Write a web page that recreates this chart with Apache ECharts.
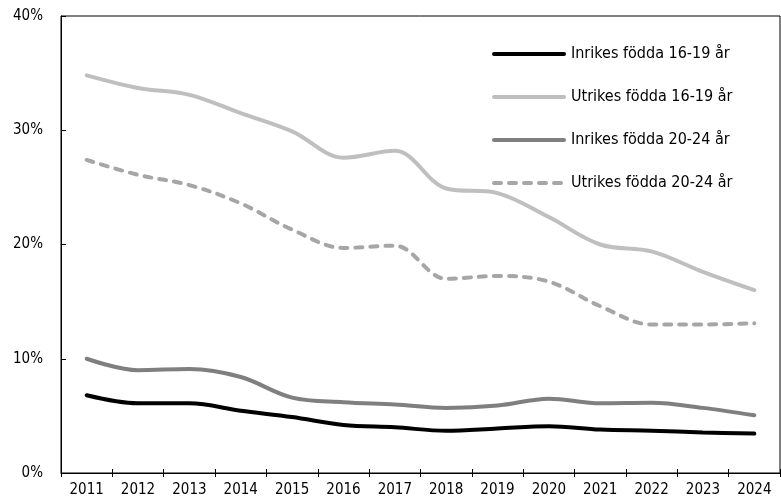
<!DOCTYPE html>
<html>
<head>
<meta charset="utf-8">
<script src="https://cdn.jsdelivr.net/npm/echarts@6/dist/echarts.min.js"></script>
<style>
  html, body { margin: 0; padding: 0; background: #fff; }
  #chart { width: 781px; height: 502px; }
</style>
</head>
<body>
<div id="chart"></div>
<script>
var years = ['2011', '2012', '2013', '2014', '2015', '2016', '2017', '2018', '2019', '2020', '2021', '2022', '2023', '2024'];

var inrikes1619 = [6.8, 6.1, 6.1, 5.45, 4.9, 4.2, 4.0, 3.7, 3.9, 4.1, 3.8, 3.7, 3.55, 3.45];
var utrikes1619 = [34.8, 33.7, 33.1, 31.5, 29.9, 27.6, 28.2, 24.9, 24.5, 22.4, 20.0, 19.4, 17.6, 16.0];
var inrikes2024 = [10.0, 9.0, 9.1, 8.4, 6.6, 6.2, 6.0, 5.7, 5.9, 6.5, 6.1, 6.15, 5.7, 5.05];
var utrikes2024 = [27.4, 26.1, 25.2, 23.6, 21.3, 19.7, 19.9, 17.0, 17.25, 16.75, 14.6, 13.0, 13.0, 13.1];

var seriesNames = ['Inrikes födda 16-19 år', 'Utrikes födda 16-19 år', 'Inrikes födda 20-24 år', 'Utrikes födda 20-24 år'];

var font = '"Liberation Sans Narrow", "DejaVu Sans Condensed", "Roboto Condensed", sans-serif';

var myChart = echarts.init(document.getElementById('chart'));

function lineSeries(name, data, color, type) {
    return {
        name: name,
        type: 'line',
        data: data,
        smooth: 0.35,
        symbol: 'none',
        xAxisIndex: 0,
        lineStyle: {
            color: color,
            width: 4,
            type: type || 'solid',
            cap: 'round'
        },
        itemStyle: { color: color }
    };
}

var option = {
    backgroundColor: '#fff',
    animation: false,
    grid: {
        left: 61,
        right: 1,
        top: 16,
        bottom: 29,
        show: true,
        borderColor: '#000',
        borderWidth: 1
    },
    legend: {
        orient: 'vertical',
        left: 487,
        top: 41,
        itemWidth: 70,
        itemHeight: 14,
        itemGap: 27,
        data: seriesNames,
        itemStyle: { opacity: 0 },   // hide the symbol, keep the line
        lineStyle: { width: 4, cap: 'round' },
        textStyle: {
            fontFamily: font,
            fontSize: 16,
            color: '#000',
            padding: [0, 0, 0, 2]
        }
    },
    xAxis: [
        {
            type: 'category',
            data: years,
            boundaryGap: true,
            axisLine: { lineStyle: { color: '#000', width: 1 } },
            axisTick: { show: true, length: 4, lineStyle: { color: '#000' } },
            axisLabel: {
                color: '#000',
                fontFamily: font,
                fontSize: 15,
                margin: 10
            },
            splitLine: { show: false }
        },
        {
            // inner half of the crossing ticks
            type: 'category',
            data: years,
            position: 'bottom',
            boundaryGap: true,
            axisLine: { show: false },
            axisTick: { show: true, inside: true, length: 4, lineStyle: { color: '#000' } },
            axisLabel: { show: false },
            splitLine: { show: false }
        }
    ],
    yAxis: {
        type: 'value',
        min: 0,
        max: 40,
        interval: 10,
        axisLine: { show: true, lineStyle: { color: '#000' } },
        axisTick: { show: true, inside: true, length: 5, lineStyle: { color: '#000' } },
        axisLabel: {
            formatter: '{value}%',
            color: '#000',
            fontFamily: font,
            fontSize: 15,
            margin: 18
        },
        splitLine: { show: false }
    },
    series: [
        lineSeries(seriesNames[0], inrikes1619, '#000000'),
        lineSeries(seriesNames[1], utrikes1619, '#bfbfbf'),
        lineSeries(seriesNames[2], inrikes2024, '#7f7f7f'),
        lineSeries(seriesNames[3], utrikes2024, '#a6a6a6', [7, 8])
    ]
};

myChart.setOption(option);
</script>
</body>
</html>
